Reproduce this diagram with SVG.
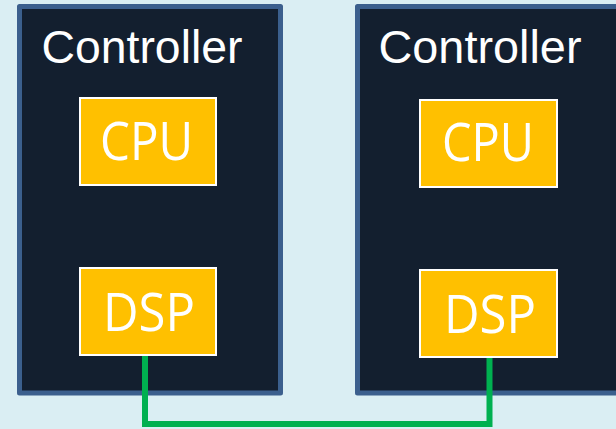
<svg xmlns="http://www.w3.org/2000/svg" width="616" height="429" viewBox="0 0 616 429">
<style>
.ctrl{fill:#131F2F;stroke:#3B5F8D;stroke-width:5;stroke-linejoin:round}
.chip{fill:#FFC000;stroke:#FFFFFF;stroke-width:2}
.ttl{font-family:"Liberation Sans",Arial,sans-serif;font-size:46px;fill:#FFFFFF}
.lbl{font-family:"Open Sans","DejaVu Sans",sans-serif;font-size:53px;fill:#FFFFFF}
.wire{fill:none;stroke:#00B050;stroke-width:6;stroke-linejoin:miter}
</style>
<rect width="616" height="429" fill="#DAEEF3"/>
<g id="controller1">
<rect class="ctrl" x="19.5" y="6.5" width="261" height="386.5"/>
<text class="ttl" x="41.5" y="62.5" textLength="201" lengthAdjust="spacingAndGlyphs">Controller</text>
</g>
<g id="controller2">
<rect class="ctrl" x="357.5" y="6.5" width="270" height="386.5"/>
<text class="ttl" x="378.5" y="62.5" textLength="203" lengthAdjust="spacingAndGlyphs">Controller</text>
</g>
<g id="cpu1">
<rect class="chip" x="80" y="98" width="136" height="87"/>
<text class="lbl" x="100" y="159.5" textLength="93" lengthAdjust="spacingAndGlyphs">CPU</text>
</g>
<g id="cpu2">
<rect class="chip" x="420" y="100" width="137" height="87"/>
<text class="lbl" x="442" y="161" textLength="92" lengthAdjust="spacingAndGlyphs">CPU</text>
</g>
<g id="dsp1">
<rect class="chip" x="80" y="268" width="136" height="87"/>
<text class="lbl" x="103" y="330.5" textLength="92" lengthAdjust="spacingAndGlyphs">DSP</text>
</g>
<g id="dsp2">
<rect class="chip" x="420" y="270" width="137" height="87"/>
<text class="lbl" x="444" y="332.5" textLength="92" lengthAdjust="spacingAndGlyphs">DSP</text>
</g>
<g id="connectors">
<polyline class="wire" points="145,356 145,424 489.5,424 489.5,358"/>
</g>
</svg>
